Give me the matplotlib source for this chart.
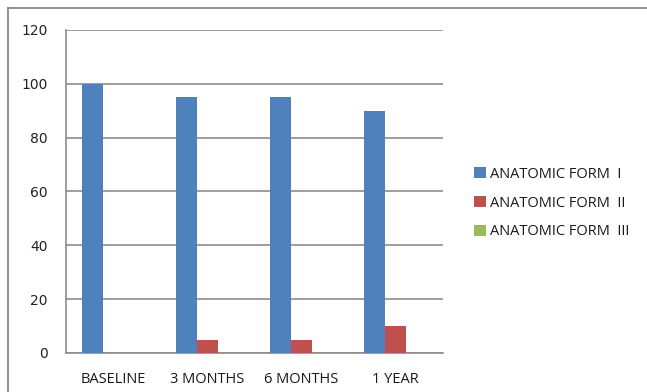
import numpy as np
import matplotlib
matplotlib.use('Agg')
import matplotlib.pyplot as plt
from matplotlib.lines import Line2D

# data
categories = ['BASELINE', '3 MONTHS', '6 MONTHS', '1 YEAR']
form_1 = [100, 95, 95, 90]
form_2 = [0, 5, 5, 10]
form_3 = [0, 0, 0, 0]
series_names = ['ANATOMIC FORM  I', 'ANATOMIC FORM  II', 'ANATOMIC FORM  III']
y_ticks = [0, 20, 40, 60, 80, 100, 120]

colors = ['#4F81BD', '#C0504D', '#9BBB59']

plt.rcParams['font.family'] = ['Open Sans', 'DejaVu Sans']

fig = plt.figure(figsize=(6.47, 3.92), dpi=100)
ax = fig.add_axes([66 / 647, 1 - 353 / 392, (443 - 66) / 647, (353 - 30) / 392])

x = np.arange(len(categories))
w = 1 / 4.5
for i, vals in enumerate([form_1, form_2, form_3]):
    ax.bar(x + (i - 1) * w, vals, width=w, color=colors[i], label=series_names[i], zorder=3)

ax.set_xlim(-0.5, len(categories) - 0.5)
ax.set_ylim(0, 120)
ax.set_yticks(y_ticks)
ax.set_yticklabels([str(t) for t in y_ticks], family='DejaVu Sans', fontsize=10, color='#222222')
ax.set_xticks(x)
ax.set_xticklabels(categories, fontsize=10.5, color='#1a1a1a')
ax.tick_params(axis='y', length=0, pad=13)
ax.tick_params(axis='x', length=0, pad=14)
ax.grid(axis='y', color='#8c8c8c', linewidth=1.2, zorder=0)
for s in ['top', 'right']:
    ax.spines[s].set_visible(False)
ax.spines['left'].set_color('#8c8c8c')
ax.spines['bottom'].set_color('#8c8c8c')
ax.spines['left'].set_linewidth(1.2)
ax.spines['bottom'].set_linewidth(1.2)

leg = fig.legend(loc='center left', bbox_to_anchor=(461 / 647, 1 - 203 / 392),
                 frameon=False, fontsize=10.5, handlelength=0.8, handleheight=0.8,
                 handletextpad=0.3, labelspacing=0.95)
for t in leg.get_texts():
    t.set_color('#1a1a1a')

# outer border (top and left only visible)
fig.add_artist(Line2D([8 / 647, 1], [1 - 8 / 392, 1 - 8 / 392], color='#7f7f7f', linewidth=1.2))
fig.add_artist(Line2D([8 / 647, 8 / 647], [0, 1 - 8 / 392], color='#7f7f7f', linewidth=1.2))

fig.savefig('out.png', dpi=100)
